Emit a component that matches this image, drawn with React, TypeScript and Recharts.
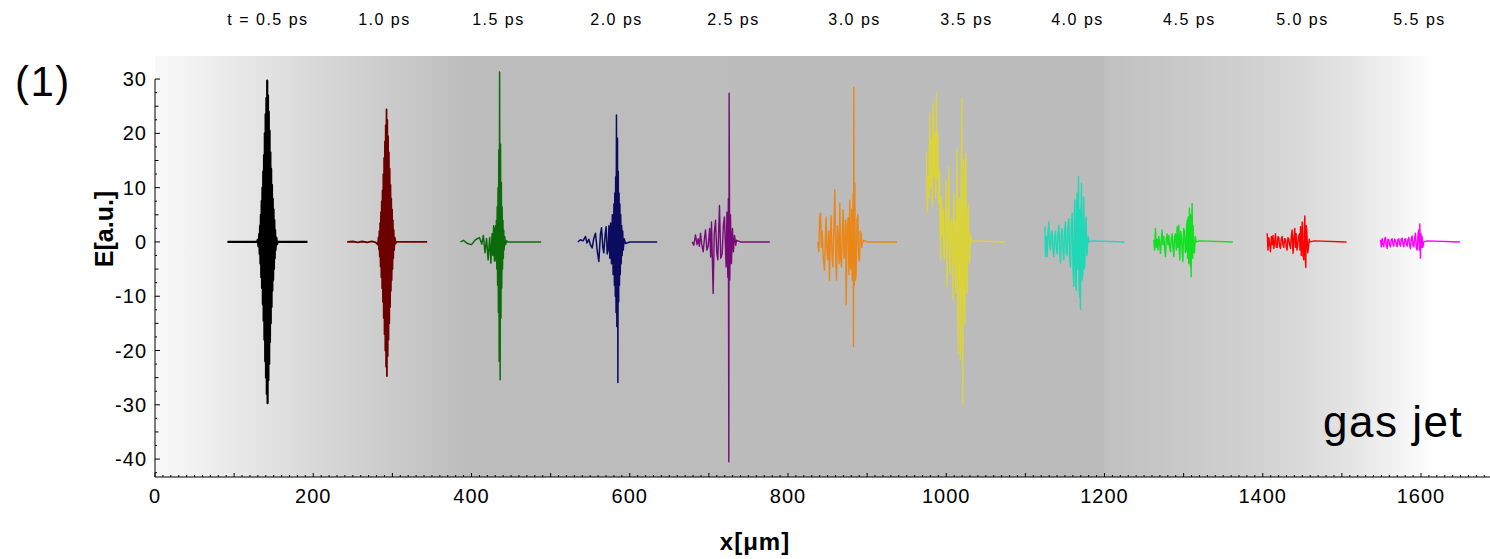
import { ComposedChart, Line, XAxis, YAxis, ReferenceArea, ReferenceLine } from "recharts";

type Pt = [number, number];

// time stamps shown above each pulse, placed at the pulse centres (x in µm)
const timeLabels = ["t = 0.5 ps", "1.0 ps", "1.5 ps", "2.0 ps", "2.5 ps", "3.0 ps", "3.5 ps", "4.0 ps", "4.5 ps", "5.0 ps", "5.5 ps"];
const labelX = [142.8, 290, 434.1, 583.3, 731.1, 884.1, 1025.6, 1165.9, 1307.3, 1450.2, 1598.1];
const pulseColors = ["#000000", "#6c0000", "#0b6b0b", "#0b0b60", "#740074", "#f08000", "#e2da1c", "#12dab4", "#08e018", "#ff0000", "#ff00ff"];
const pulseWidths = [2.2, 1.8, 1.5, 1.5, 1.4, 1.4, 1.4, 1.4, 1.4, 1.4, 1.4];
const pulseOpacity = [1, 1, 1, 1, 0.95, 0.88, 0.8, 0.92, 0.95, 1, 1];

// E-field traces [x µm, E a.u.]
const pulse05: Pt[] = [
  [91.5, 0], [129, 0], [129.8, 0.4], [130.8, -0.8], [131.8, 1.5], [132.3, -2.2], [132.8, 3], [133.3, -4], [133.8, 5],
  [134.3, -6.5], [134.8, 7.5], [135.3, -8.5], [135.8, 10], [136.3, -11.5], [136.8, 13], [137.3, -14.5], [137.8, 16],
  [138.3, -18], [138.8, 20], [139.3, -22], [139.8, 23.5], [140.3, -25], [140.8, 26.5], [141.3, -28], [141.8, 29.7],
  [142.3, -29.7], [142.8, 27], [143.3, -25.5], [143.8, 24], [144.3, -22.5], [144.8, 20.5], [145.3, -18.5], [145.8, 16.5],
  [146.3, -15], [146.8, 13.5], [147.3, -12], [147.8, 10.5], [148.3, -9], [148.8, 8], [149.3, -7], [149.8, 6], [150.3, -5],
  [150.8, 4], [151.3, -3], [151.8, 2.2], [152.3, -1.5], [153.3, 0.8], [154.3, -0.4], [155, 0], [192.7, 0],
];
const pulse10: Pt[] = [
  [242.9, 0], [250, 0.08], [256, -0.08], [262, 0.08], [268, -0.08], [274, 0.1], [279, -0.1], [281.6, -0.5], [282.6, 0.9],
  [283.1, -1.4], [283.6, 2], [284.1, -2.7], [284.6, 3.5], [285.1, -4.5], [285.6, 5.5], [286.1, -6.5], [286.6, 7.5],
  [287.1, -8.5], [287.6, 9.5], [288.1, -11], [288.6, 12.5], [289.1, -14], [289.6, 15.5], [290.1, -17], [290.6, 18.5],
  [291.1, -20], [291.6, 21.5], [292.1, -23], [292.6, 24.4], [293.1, -24.7], [293.6, 22.5], [294.1, -21], [294.6, 19.5],
  [295.1, -18], [295.6, 16.5], [296.1, -15], [296.6, 13.5], [297.1, -12], [297.6, 10.5], [298.1, -9], [298.6, 8],
  [299.1, -7], [299.6, 6], [300.1, -5], [300.6, 4], [301.1, -3], [301.6, 2.2], [302.1, -1.5], [303.1, 0.8], [304.1, -0.3],
  [305, 0], [344, 0],
];
const pulse15: Pt[] = [
  [386, 0], [390, 0.3], [395, -0.3], [400, -0.5], [405, 0.4], [410, 0.8], [413, -0.4], [415, 1.2], [417, -2], [419, 0.6],
  [421, -3.3], [423, 0.8], [424.5, -3.9], [426, 1.5], [427, -2.5], [428, 3], [429, -3.5], [429.5, 2.5], [430, -2.5],
  [430.5, 3], [431, -3.5], [431.5, 4], [432, -5], [432.5, 6.5], [433, -8], [433.5, 10], [434, -13], [434.5, 17], [435, -22],
  [435.5, 31.3], [436.2, -25.4], [436.7, 18], [437.2, -14], [437.7, 11], [438.2, -8.5], [438.7, 6.5], [439.2, -5],
  [439.7, 4], [440.2, -3], [440.7, 2.2], [441.2, -1.5], [442, 1], [443, -0.5], [444.5, 0.2], [446, 0], [488, 0],
];
const pulse20: Pt[] = [
  [534.4, 0], [537.8, 0.4], [541, 0.2], [544, 1.0], [546, -0.2], [548.3, 0.5], [550.5, -0.6], [552.5, -1.1], [554.5, 0.6],
  [556.7, 1.6], [558.8, -1.5], [560.9, -3.6], [563, 1.5], [564.3, 2.6], [566, -1], [567.2, -2], [569, 1.5], [570.2, 2.8],
  [571.5, -2.2], [572.7, -1.5], [573.7, 3.0], [574.8, -3], [575.8, 3.5], [576.9, -4], [578, 5], [579, -6], [580, 7],
  [580.6, -8], [581.1, 9], [581.7, -10], [582.2, 12], [582.7, -13], [583.2, 23.4], [583.7, -15.6], [584.5, 19.1],
  [585, -25.9], [585.5, 13], [586, -11], [586.5, 9], [587, -8], [587.5, 7], [588, -6], [588.6, 5], [589.2, -4], [589.8, 3],
  [590.4, -2.5], [591.1, 2], [591.7, -1.5], [593, 0.6], [594.6, -0.3], [600, 0], [634.7, 0],
];
const pulse25: Pt[] = [
  [678.9, 0], [681, -0.6], [683.1, 1.3], [685, -0.5], [686.5, 0.6], [688, -0.8], [689.4, 1.6], [691, -0.5], [692.8, -1.8],
  [694.5, 0.8], [695.7, 2.2], [697.5, -1.5], [699.1, -0.8], [701, 2.5], [702.3, -2.8], [703.3, 3.7], [705.4, -9.5],
  [706.8, 1.5], [708.4, 4], [710, -2], [711.3, -3.3], [713.4, 6.7], [715, -3], [716.8, -2.2], [718.3, 3], [719.7, 4.6],
  [721.8, -4.6], [722.8, 5.5], [723.9, -6.5], [724.6, 8], [725.2, -40.5], [725.6, 27.4], [726.4, -7], [727.3, 5],
  [728.5, -4], [729.8, 2.5], [731, -1.8], [732.4, 1.2], [734, -0.6], [734.9, 0.3], [740, 0], [777, 0],
];
const pulse30: Pt[] = [
  [837.7, 0], [839, -1.8], [840, 4.6], [841.1, 5.3], [842.2, -1], [843.2, 2], [844.6, -3], [846.1, -5.2], [847.2, 1],
  [848.2, 4.6], [849.3, -2], [850.3, -3.3], [851.4, 2], [852.4, -7], [853.5, 1.5], [854.5, 4.8], [855.5, -2], [856.6, -4.6],
  [858, 3], [859.2, 9.6], [860.3, -3], [861.3, -7], [862.4, 3], [863.4, 1], [864.5, -4], [865.5, 7.1], [866.5, -3],
  [867.6, -4.6], [868.7, 2], [869.7, 5.9], [870.8, -3], [871.8, -2], [872.6, 4], [873.5, -11.6], [874.8, 3], [876, 4.5],
  [877, -6], [878.1, 7.7], [879, -5], [879.8, -4], [880.5, 6], [881.1, -7], [882.3, 9], [882.8, -19.3], [883.2, 28.5],
  [883.8, -8], [884.4, 10.8], [885.2, -7], [886.1, -6], [887.2, 4], [888.2, 5], [889.3, -3], [890.3, -3.5], [891.3, 2],
  [892.4, 1.5], [893.3, -1], [894.1, 0], [895.8, 0.3], [900, 0], [938, 0],
];
const pulse35: Pt[] = [
  [975, 16.6], [976, 5.6], [977.1, 12], [978, 8], [979.2, 23.7], [980.2, 10], [981.3, 18.8], [982.3, 6.5], [983.4, 25.5],
  [984.4, 12], [985.5, 20], [986.6, 8], [987.7, 27.4], [988.5, 12], [989.3, 20], [990.3, 7], [991.5, 13.2], [992.7, -3.3],
  [994, 8.3], [995, 1], [996.1, 6], [997, -2], [997.8, -3], [999, 5], [999.9, 11.4], [1001.1, -8.2], [1002.2, 4],
  [1003.2, 13.8], [1004.5, -5.8], [1005.5, 3], [1006.6, 4], [1007.4, -3], [1008.3, -10.7], [1009, 6], [1009.6, 9],
  [1010.2, -4], [1010.8, 4], [1011.5, -6], [1012.1, -9.5], [1013, 8], [1013.8, 16.9], [1014.4, -10], [1015, -20.5],
  [1015.8, 6], [1016.7, 8], [1017.4, -12], [1018, -21.7], [1018.8, 10], [1019.7, 26.4], [1020.3, -12], [1020.9, -30],
  [1021.5, 8], [1022.2, 15.1], [1022.9, -10], [1023.5, -15], [1024.1, 8], [1024.7, 16.3], [1025.5, -6], [1026.4, -9.5],
  [1027.2, 5], [1028.1, 7], [1029, -4], [1029.8, -3], [1030.6, 1.5], [1031.5, 0], [1035, 0.2], [1074.8, 0],
];
const pulse40: Pt[] = [
  [1124.6, 2.8], [1125.5, -2.7], [1126.5, 1], [1127.5, -2.7], [1128.5, 1.5], [1129.6, 3.7], [1130.6, -0.5], [1131.7, -1.5],
  [1132.7, 1.5], [1133.8, 2], [1134.8, -1], [1135.9, -2.7], [1137, 1], [1138.1, 2], [1139.1, -1], [1140.2, -2.2],
  [1141.2, 1.5], [1142.3, 3.1], [1143.3, -1.5], [1144.4, -3.9], [1145.4, 1.5], [1146.5, 2.5], [1147.5, -1.5], [1148.6, -3.3],
  [1149.6, 2], [1150.7, 3.7], [1151.8, -2], [1152.8, -2.5], [1153.8, 2.5], [1154.9, 4.3], [1156, -3], [1157, -4.6],
  [1158, 3], [1159.1, 5.3], [1160.2, -5], [1161.2, -8.2], [1161.8, 5], [1162.5, 7.7], [1163.3, -6], [1164.2, -8.9],
  [1164.8, 6], [1165.4, 9], [1166.2, -5], [1167.1, 12], [1167.8, -7], [1168.4, -10.1], [1169, 6], [1169.6, -12.4],
  [1170.3, 5], [1170.9, 10.8], [1171.7, -7], [1172.6, -6], [1173.2, 5], [1173.8, 8.3], [1174.5, -5], [1175.1, -4],
  [1176, 3], [1176.8, 4.6], [1177.5, -2.5], [1178.1, -2], [1179.3, 1], [1180.6, 0], [1185, 0.2], [1225.3, 0],
];
const pulse45: Pt[] = [
  [1262.3, 0.4], [1263.3, -1.5], [1264.4, 2.5], [1265.4, -1], [1266.5, 0.5], [1267.5, -1.5], [1268.6, 1], [1269.6, 0],
  [1270.7, -2.1], [1271.8, 0.5], [1272.8, 2.2], [1273.8, -0.5], [1274.9, 1], [1276, -1], [1277, -2.7], [1278, 0.5],
  [1279.1, 1.5], [1280.2, -0.5], [1281.3, 1.2], [1282.3, -1], [1283.4, -1.8], [1284.4, 0.5], [1285.5, 1.5], [1286.5, -1],
  [1287.6, -2.7], [1288.6, 1], [1289.7, 1.5], [1290.8, -1.5], [1291.8, 2.8], [1292.8, -1], [1293.9, 3.1], [1294.6, -1.5],
  [1295.2, -3.3], [1296.2, 2], [1297.3, 1], [1298.2, -2], [1299, -3.6], [1300, 2.5], [1301.1, 2], [1302.2, -2],
  [1303.2, -1.5], [1303.8, 3], [1304.5, 4], [1305.1, -3], [1305.7, 4.6], [1306.5, -4], [1307.4, 6.2], [1308, -3],
  [1308.7, -4.6], [1309.1, 5], [1309.5, -6.4], [1310.2, 4], [1310.8, 7.1], [1311.4, -3], [1312, 3], [1312.8, -2],
  [1313.7, -2], [1314.8, 1], [1315.8, 0], [1320, 0.2], [1362.2, 0],
];
const pulse50: Pt[] = [
  [1405.6, 1.6], [1406.6, -1.5], [1407.7, 0.8], [1408.8, -0.5], [1409.8, -1.8], [1410.9, 1], [1411.9, -0.5], [1413, 1.2],
  [1414, -1.2], [1415, 0], [1416.1, 1.5], [1417.2, -1], [1418.2, -1], [1419.2, 1], [1420.3, 0.8], [1421.3, -0.8],
  [1422.4, -1.2], [1423.4, 0.6], [1424.5, 1], [1425.5, -0.5], [1426.6, -1], [1427.6, 0.6], [1428.7, 0.5], [1429.8, -1],
  [1430.8, -1.5], [1431.8, 0.8], [1432.9, 0.5], [1434, -0.5], [1435, -1.2], [1436, 1], [1437.1, 2.2], [1437.8, -1],
  [1438.4, -2.1], [1439.4, 1], [1440.5, 2.5], [1441.3, -1], [1442.2, 1.5], [1443.2, -1.5], [1444.3, -0.5], [1445.3, 1],
  [1446.4, 1.5], [1447, -1.5], [1447.7, 2.8], [1448.7, -2.5], [1449.8, 3.7], [1450.8, -2.5], [1451.9, -3.3], [1452.5, 3],
  [1453.2, 4.8], [1453.8, -3], [1454.4, -4.7], [1455, 3], [1455.7, 2], [1456.8, -2], [1457.8, -1], [1458.7, 0.5],
  [1459.5, 0], [1465, 0.2], [1505.8, 0],
];
const pulse55: Pt[] = [
  [1548.8, 0.4], [1549.8, -0.9], [1550.9, 0.6], [1552, -0.5], [1553, -0.9], [1554, 0.5], [1555.1, 0.85], [1556.1, -0.5],
  [1557.2, -1.2], [1558.2, 0.5], [1559.3, 0.4], [1560.4, -0.6], [1561.4, -0.9], [1562.4, 0.4], [1563.5, 0.6], [1564.6, -0.4],
  [1565.6, -0.8], [1566.6, 0.5], [1567.7, 0.3], [1568.8, -0.5], [1569.8, -0.9], [1570.8, 0.4], [1571.9, 0.6], [1573, -0.4],
  [1574, -0.8], [1575, 0.5], [1576.1, 0.7], [1577.2, -0.5], [1578.3, -0.9], [1579.3, 0.5], [1580.4, 0.6], [1581.4, -0.5],
  [1582.5, -0.8], [1583.5, 0.5], [1584.6, 0.8], [1585.6, -0.6], [1586.7, -1.2], [1587.7, 0.6], [1588.8, 1.1], [1589.8, -0.6],
  [1590.9, -0.9], [1592, 0.8], [1593, 1.6], [1594, -1], [1595.1, -1.5], [1596.2, 1.5], [1597.2, 2.2], [1597.9, -1.5],
  [1598.5, 3.3], [1599.3, -3.0], [1600, 1.5], [1600.6, -1], [1601.4, 1], [1602.3, -1], [1603.5, 0], [1608, 0.2], [1649.1, 0],
];

const pulses = [pulse05, pulse10, pulse15, pulse20, pulse25, pulse30, pulse35, pulse40, pulse45, pulse50, pulse55];

const X_MAX = 1687.2;
const Y_MIN = -43.3;
const Y_MAX = 34.25;
const xTicks = Array.from({ length: 169 }, (_, i) => i * 10);
const yTicks = Array.from({ length: 30 }, (_, i) => -42.5 + i * 2.5);

const font = "'Liberation Sans', Arial, sans-serif";

function XTick({ x, y, payload }: any) {
  const v = payload.value;
  const len = v % 100 === 0 ? 4 : 2;
  return (
    <g>
      <line x1={x} x2={x} y1={y} y2={y - len} stroke="#000" strokeWidth={1} />
      {v % 200 === 0 && (
        <text x={x} y={y + 26} textAnchor="middle" fontFamily={font} fontSize={20} letterSpacing={1} fill="#000">
          {v}
        </text>
      )}
    </g>
  );
}

function YTick({ x, y, payload }: any) {
  const v = payload.value;
  const len = v % 10 === 0 ? 5 : v % 5 === 0 ? 3.5 : 2;
  return (
    <g>
      <line x1={x} x2={x + len} y1={y} y2={y} stroke="#000" strokeWidth={1} />
      {v % 10 === 0 && (
        <text x={x - 8} y={y + 7} textAnchor="end" fontFamily={font} fontSize={20} letterSpacing={1} fill="#000">
          {v}
        </text>
      )}
    </g>
  );
}

function TopTick({ x, y, index }: any) {
  return (
    <text x={x} y={y - 31} textAnchor="middle" fontFamily={font} fontSize={16} letterSpacing={1.5} fill="#000">
      {timeLabels[index]}
    </text>
  );
}

export default function App() {
  return (
    <div style={{ position: "absolute", left: 0, top: 0, width: 1490, height: 559, background: "#fff" }}>
      <ComposedChart width={1490} height={559} margin={{ top: 0, right: 0, bottom: 0, left: 0 }}>
        <defs>
          <linearGradient id="bgGrad" x1="0" y1="0" x2="1" y2="0">
            <stop offset="0" stopColor="#f9f9f9" />
            <stop offset={200 / X_MAX} stopColor="#d9d9d9" />
            <stop offset={400 / X_MAX} stopColor="#bcbcbc" />
            <stop offset={1199 / X_MAX} stopColor="#bbbbbb" />
            <stop offset={1200 / X_MAX} stopColor="#c0c0c0" />
            <stop offset={1400 / X_MAX} stopColor="#d2d2d2" />
            <stop offset={1500 / X_MAX} stopColor="#e2e2e2" />
            <stop offset={1600 / X_MAX} stopColor="#fafafa" />
            <stop offset={1615 / X_MAX} stopColor="#ffffff" />
            <stop offset="1" stopColor="#ffffff" />
          </linearGradient>
        </defs>
        <XAxis
          xAxisId="top"
          orientation="top"
          type="number"
          dataKey="x"
          domain={[0, X_MAX]}
          allowDataOverflow
          ticks={labelX}
          interval={0}
          height={56}
          axisLine={false}
          tickLine={false}
          tickSize={0}
          tickMargin={0}
          tick={<TopTick />}
        />
        <XAxis
          type="number"
          dataKey="x"
          domain={[0, X_MAX]}
          allowDataOverflow
          ticks={xTicks}
          interval={0}
          height={82}
          axisLine={{ stroke: "#000", strokeWidth: 1 }}
          tickLine={false}
          tickSize={0}
          tickMargin={0}
          tick={<XTick />}
        />
        <YAxis
          type="number"
          domain={[Y_MIN, Y_MAX]}
          allowDataOverflow
          ticks={yTicks}
          interval={0}
          width={155}
          axisLine={false}
          tickLine={false}
          tickSize={0}
          tickMargin={0}
          tick={<YTick />}
        />
        <ReferenceArea x1={0} x2={X_MAX} y1={Y_MIN} y2={Y_MAX} fill="url(#bgGrad)" fillOpacity={1} stroke="none" />
        <ReferenceLine segment={[{ x: 0, y: 30 }, { x: 0, y: Y_MIN }]} stroke="#000" strokeWidth={1} />
        {pulses.map((p, i) => (
          <Line
            key={i}
            data={p.map(([x, e]) => ({ x, e }))}
            dataKey="e"
            type="linear"
            stroke={pulseColors[i]}
            strokeWidth={pulseWidths[i]}
            strokeOpacity={pulseOpacity[i]}
            strokeLinejoin="round"
            dot={false}
            activeDot={false}
            isAnimationActive={false}
          />
        ))}
      </ComposedChart>
      <svg width={1490} height={559} style={{ position: "absolute", left: 0, top: 0, pointerEvents: "none" }}>
        <text x={15} y={96} fontFamily={font} fontSize={42} letterSpacing={1.5} fill="#000">(1)</text>
        <text x={1323} y={437} fontFamily={font} fontSize={44} letterSpacing={1.5} fill="#000">gas jet</text>
        <text
          x={113}
          y={229}
          transform="rotate(-90 113 229)"
          textAnchor="middle"
          fontFamily={font}
          fontWeight="bold"
          fontSize={25}
          fill="#000"
        >
          E[a.u.]
        </text>
        <text x={755} y={550} textAnchor="middle" fontFamily={font} fontWeight="bold" fontSize={24} letterSpacing={1} fill="#000">
          x[μm]
        </text>
      </svg>
    </div>
  );
}
